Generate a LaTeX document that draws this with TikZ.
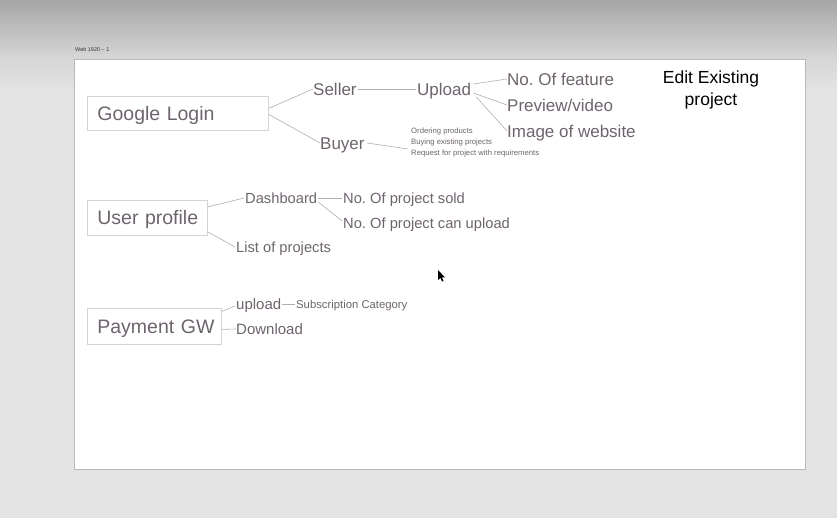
\documentclass[tikz,border=0pt]{standalone}
\usepackage{fontspec}
\setmainfont{Liberation Sans}
\usetikzlibrary{calc}
\definecolor{txtc}{RGB}{110,100,110}
\definecolor{linec}{RGB}{178,172,180}
\definecolor{boxc}{RGB}{212,210,212}
\definecolor{bgtop}{RGB}{166,166,166}
\definecolor{bgmid}{RGB}{214,214,214}
\definecolor{bglow}{RGB}{227,227,227}
\tikzset{
  lbl/.style={inner sep=0pt, anchor=west, text=txtc, text depth=0pt},
  boxn/.style={draw=boxc, line width=0.8pt, inner xsep=10pt, inner ysep=0pt, align=left, anchor=north west, text=txtc, font=\fontsize{19.5}{22}\selectfont, text height=14pt, text depth=0pt},
  conn/.style={draw=linec, line width=0.6pt},
  big/.style={lbl, font=\fontsize{17}{20}\selectfont, text height=12.2pt},
  mid/.style={lbl, font=\fontsize{14.7}{17}\selectfont, text height=10.6pt},
  sml/.style={lbl, font=\fontsize{15}{18}\selectfont, text height=10.8pt},
}
\begin{document}
\frenchspacing
\begin{tikzpicture}[x=1pt,y=-1pt]
\useasboundingbox (0,0) rectangle (837,518);
% background
\shade[top color=bgtop, bottom color=bgmid] (0,0) rectangle (837,58);
\shade[top color=bgmid, bottom color=bglow] (0,58) rectangle (837,90);
\fill[bglow] (0,90) rectangle (837,518);
% artboard
\fill[gray!22] (75,468) rectangle (806,472);
\draw[fill=white, draw=gray!55, line width=0.7pt] (74,59) rectangle (805,469);
\node[inner sep=0pt, anchor=west, font=\fontsize{5.5}{6}\selectfont, text=black!80] (web) at (75,50) {Web 1920 – 1};

% Google Login group
\node[boxn, text width=161pt, minimum height=34pt] (gl) at (87,96) {\mbox{Google Login}};
\node[big] (seller) at (313,89) {Seller};
\node[big] (upload) at (417,89) {Upload};
\node[big] (feat) at (507,79) {No. Of feature};
\node[big] (prev) at (507,105) {Preview/video};
\node[big] (img) at (507,131) {Image of website};
\node[big] (buyer) at (320,143) {Buyer};
\node[inner sep=0pt, anchor=west, align=left, text=txtc, font=\fontsize{7.7}{11}\selectfont] (blist) at (411,143) {Ordering products\\Buying existing projects\\Request for project with requirements};
\draw[conn] ([yshift=5pt]gl.east) -- (seller.west);
\draw[conn] ([yshift=-1pt]gl.east) -- (buyer.west);
\draw[conn] ([xshift=1pt]seller.east) -- ([xshift=-1pt]upload.west);
\draw[conn] ([xshift=2pt,yshift=5pt]upload.east) -- (feat.west);
\draw[conn] ([xshift=2pt,yshift=-4pt]upload.east) -- (prev.west);
\draw[conn] ([xshift=5pt,yshift=-8pt]upload.east) -- (img.west);
\draw[conn] ([xshift=2pt]buyer.east) -- ([xshift=-3pt,yshift=-6pt]blist.west);

% Edit existing
\node[inner sep=0pt, align=center, text=black, font=\fontsize{17.5}{22}\selectfont] (edit) at (711,90) {Edit Existing\\project};

% User profile group
\node[boxn, text width=100pt, minimum height=35pt] (up) at (87,200) {\mbox{User profile}};
\node[mid] (dash) at (245,198) {Dashboard};
\node[mid] (lop) at (236,247) {List of projects};
\node[mid] (sold) at (343,198) {No. Of project sold};
\node[mid] (can) at (343,223) {No. Of project can upload};
\draw[conn] ([yshift=11pt]up.east) -- ([xshift=-1pt]dash.west);
\draw[conn] ([yshift=-14pt]up.east) -- ([xshift=-1pt]lop.west);
\draw[conn] ([xshift=1pt]dash.east) -- ([xshift=-1pt]sold.west);
\draw[conn] ([xshift=1pt,yshift=-4pt]dash.east) -- ([xshift=-1pt,yshift=2pt]can.west);

% Payment group
\node[boxn, text width=114pt, minimum height=36pt] (pg) at (87,308) {\mbox{Payment GW}};
\node[sml] (upl) at (236,304) {upload};
\node[sml] (dl) at (236,329) {Download};
\node[lbl, font=\fontsize{11.3}{13}\selectfont, text height=8.1pt] (sub) at (296,304) {Subscription Category};
\draw[conn] ([yshift=15pt]pg.east) -- ([xshift=-1pt,yshift=-2pt]upl.west);
\draw[conn] ([yshift=-3pt]pg.east) -- (dl.west);
\draw[conn] ([xshift=1pt]upl.east) -- ([xshift=-1pt]sub.west);

% cursor
\fill[black] (438,270) -- (438,280) -- (440.5,278) -- (442,281.5) -- (443.5,281) -- (442,277.5) -- (445,277.5) -- cycle;
\end{tikzpicture}
\end{document}
